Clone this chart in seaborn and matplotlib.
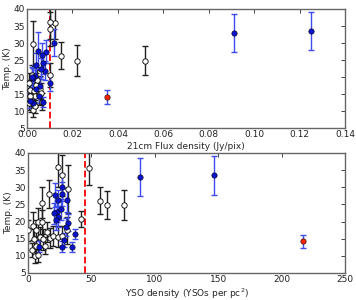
import matplotlib
matplotlib.use("Agg")
import matplotlib.pyplot as plt
import seaborn as sns
import pandas as pd

# ---- top panel data (21cm flux density) ----
open_flux = [0.052, 0.022, 0.015, 0.0125, 0.0100, 0.0102, 0.0102, 0.0027, 0.0007, 0.0015,
             0.0029, 0.0022, 0.0037, 0.0019, 0.0025, 0.0034, 0.0051, 0.0059, 0.0066, 0.0063,
             0.0040, 0.0012, 0.0007, 0.0044, 0.0022]
open_T1 = [24.8, 24.8, 26.3, 35.8, 36.2, 34.0, 20.7, 29.6, 18.2, 16.2,
           15.8, 14.3, 14.3, 12.3, 10.4, 11.4, 14.8, 16.4, 12.8, 15.3,
           17.7, 14.3, 12.3, 19.2, 20.6]
open_err1 = [4.2, 4.5, 4.0, 4.5, 5.0, 5.0, 3.5, 7.0, 3.0, 3.0,
             3.0, 2.5, 3.0, 2.5, 2.0, 2.0, 3.0, 4.0, 2.5, 3.0,
             3.5, 2.5, 2.0, 3.0, 3.0]
blue_flux = [0.091, 0.125, 0.0118, 0.0099, 0.0084, 0.0081, 0.0066, 0.0069, 0.0063, 0.0049,
             0.0038, 0.0035, 0.0025, 0.0041, 0.0051, 0.0071, 0.0028, 0.0012, 0.0059, 0.0020]
blue_T1 = [33.0, 33.5, 30.1, 18.2, 27.5, 21.9, 26.5, 24.0, 22.5, 27.7,
           23.6, 20.4, 19.7, 16.4, 14.3, 12.6, 12.5, 13.0, 17.4, 20.0]
blue_err1 = [5.5, 5.5, 3.9, 2.4, 3.4, 2.7, 3.5, 3.0, 3.0, 5.4,
             3.5, 3.0, 3.0, 2.5, 2.0, 1.5, 1.5, 2.0, 2.5, 3.0]
red_flux = [0.035]
red_T1 = [14.2]
red_err1 = [2.0]
flux_cut = 0.01

# ---- bottom panel data (YSO density) ----
open_yso = [47.8, 56.7, 62.6, 75.5, 41.9, 23.9, 26.5, 16.5, 31.4, 10.7,
            0.0, 4.0, 6.6, 8.0, 10.6, 2.7, 5.3, 8.0, 14.7, 17.3,
            19.9, 23.9, 26.6, 30.6, 9.3, 12.0, 4.8, 6.6, 13.2]
open_T2 = [35.6, 26.1, 24.8, 24.8, 20.7, 36.0, 33.5, 28.0, 29.4, 25.5,
           17.4, 18.7, 17.5, 19.9, 19.9, 11.8, 10.0, 10.2, 17.0, 15.2,
           15.8, 15.6, 15.8, 17.4, 15.5, 14.8, 14.8, 13.0, 13.0]
open_err2 = [5.0, 4.0, 4.0, 4.3, 2.4, 6.0, 6.0, 4.0, 7.0, 4.5,
             3.0, 4.0, 3.0, 4.0, 3.5, 2.0, 2.0, 2.0, 3.0, 3.0,
             3.0, 3.0, 3.0, 4.0, 3.0, 3.0, 3.0, 2.5, 2.5]
blue_yso = [147.0, 87.9, 21.3, 27.1, 30.3, 27.1, 22.9, 20.2, 26.1, 23.9,
            22.1, 31.4, 29.8, 36.7, 28.7, 26.6, 34.6, 8.5, 23.9]
blue_T2 = [33.5, 33.0, 27.7, 27.9, 26.3, 30.0, 22.9, 22.4, 23.6, 21.4,
           20.5, 19.7, 18.4, 16.3, 14.7, 12.7, 12.6, 12.7, 26.3]
blue_err2 = [5.7, 5.5, 3.5, 3.5, 3.5, 4.0, 3.0, 3.0, 3.0, 3.0,
             3.0, 2.5, 2.5, 1.5, 2.0, 1.5, 1.5, 1.5, 3.0]
red_yso = [217.0]
red_T2 = [14.2]
red_err2 = [2.0]
yso_cut = 45

yticks = [5, 10, 15, 20, 25, 30, 35, 40]
xticks1 = [0.00, 0.02, 0.04, 0.06, 0.08, 0.10, 0.12, 0.14]
xticks2 = [0, 50, 100, 150, 200, 250]

sns.set_style("white")
plt.rcParams['font.family'] = ['DejaVu Sans']

fig = plt.figure(figsize=(3.56, 3.0), dpi=100)
ax1 = fig.add_axes([0.076, 0.573, 0.893, 0.397])
ax2 = fig.add_axes([0.079, 0.090, 0.890, 0.400])

BLUE = "#0a14d0"
BLUEBAR = "#3f4cf0"
BLACKBAR = "#222222"
RED = "#ff2200"


def panel(ax, ox, oT, oe, bx, bT, be, rx, rT, re, cut, xlim, xticks, xlabel, fmt):
    ax.axvline(cut, color="red", ls="--", lw=1.3, zorder=1)
    ax.errorbar(ox, oT, yerr=oe, fmt="none", ecolor=BLACKBAR, elinewidth=1.0,
                capsize=2, capthick=1.0, zorder=2)
    ax.errorbar(bx, bT, yerr=be, fmt="none", ecolor=BLUEBAR, elinewidth=1.0,
                capsize=2, capthick=1.0, zorder=3)
    ax.errorbar(rx, rT, yerr=re, fmt="none", ecolor=BLUEBAR, elinewidth=1.0,
                capsize=2, capthick=1.0, zorder=3)
    sns.scatterplot(x=ox, y=oT, ax=ax, marker="o", s=15, facecolor="white",
                    edgecolor="black", linewidth=0.6, zorder=4)
    sns.scatterplot(x=bx, y=bT, ax=ax, marker="o", s=15, color=BLUE,
                    edgecolor="black", linewidth=0.4, zorder=5)
    sns.scatterplot(x=rx, y=rT, ax=ax, marker="o", s=15, color=RED,
                    edgecolor="black", linewidth=0.4, zorder=5)
    ax.set_xlim(*xlim)
    ax.set_ylim(5, 40)
    ax.set_xticks(xticks)
    ax.set_xticklabels([fmt(v) for v in xticks], fontsize=6.5)
    ax.set_yticks(yticks)
    ax.set_yticklabels([str(v) for v in yticks], fontsize=6.5)
    ax.set_xlabel(xlabel, fontsize=6.5, labelpad=2)
    ax.set_ylabel("Temp. (K)", fontsize=6.5, labelpad=1)
    ax.tick_params(direction="in", length=3, width=0.6, top=True, right=True,
                   pad=1.5, colors="#222222")
    for s in ax.spines.values():
        s.set_color("#666666")
        s.set_linewidth(1.0)


panel(ax1, open_flux, open_T1, open_err1, blue_flux, blue_T1, blue_err1,
      red_flux, red_T1, red_err1, flux_cut, (0, 0.14), xticks1,
      "21cm Flux density (Jy/pix)", lambda v: f"{v:.2f}")
panel(ax2, open_yso, open_T2, open_err2, blue_yso, blue_T2, blue_err2,
      red_yso, red_T2, red_err2, yso_cut, (0, 250), xticks2,
      "YSO density (YSOs per pc$^2$)", lambda v: f"{v:d}")

fig.savefig("out.png", dpi=100)
